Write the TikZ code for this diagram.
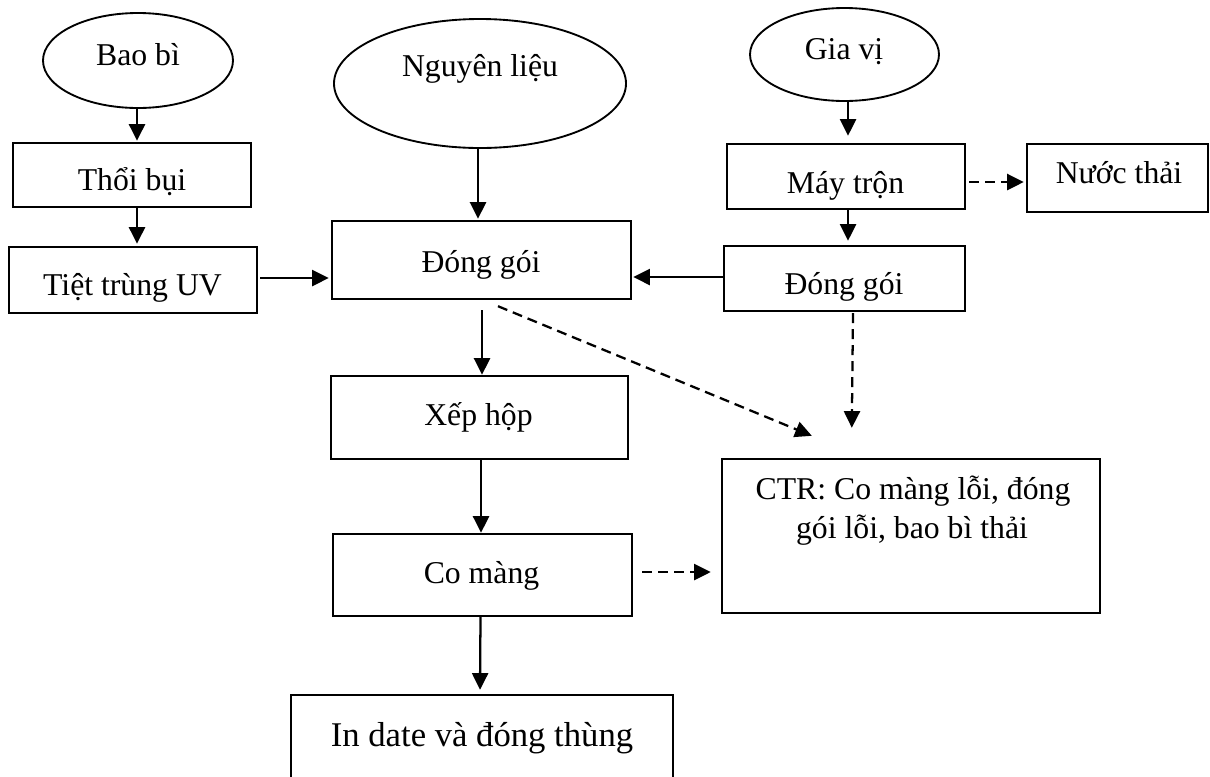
\documentclass[tikz,border=0pt]{standalone}
\usepackage{fontspec}
\setmainfont{Liberation Serif}
\usetikzlibrary{shapes.geometric,arrows.meta,calc}
\newcommand\pxu{*0.75pt}
\begin{document}
\begin{tikzpicture}[x=0.75pt,y=-0.75pt,
  box/.style={draw,line width=1.8pt,rectangle,inner sep=0pt},
  oval/.style={draw,line width=1.4pt,ellipse,inner sep=0pt},
  lbl/.style={anchor=base,inner sep=0pt,font=\fontsize{23.8}{28}\selectfont},
  biglbl/.style={lbl,font=\fontsize{26}{30}\selectfont},
  arr/.style={line width=1.7pt,-{Triangle[length=12.5pt,width=12pt]}},
  darr/.style={arr,dash pattern=on 7.5pt off 4.5pt}]
\useasboundingbox (0,0) rectangle (1210,776);
\clip (0,0) rectangle (1210,776);

% inputs
\node[oval,minimum width=190\pxu,minimum height=95\pxu] (baobi) at (138,60.5) {};
\node[oval,minimum width=292\pxu,minimum height=129\pxu] (nguyen) at (480,83.5) {};
\node[oval,minimum width=189\pxu,minimum height=93\pxu] (giavi) at (844.5,54.5) {};

% process boxes
\node[box,minimum width=238\pxu,minimum height=64\pxu] (thoi) at (132,175) {};
\node[box,minimum width=248\pxu,minimum height=66\pxu] (tiet) at (133,280) {};
\node[box,minimum width=299\pxu,minimum height=78\pxu] (dong) at (481.5,260) {};
\node[box,minimum width=238\pxu,minimum height=65\pxu] (may) at (846,176.5) {};
\node[box,minimum width=181\pxu,minimum height=68\pxu] (nuoc) at (1117.5,178) {};
\node[box,minimum width=241\pxu,minimum height=65\pxu] (dong2) at (844.5,278.5) {};
\node[box,minimum width=297\pxu,minimum height=83\pxu] (xep) at (479.5,417.5) {};
\node[box,minimum width=299\pxu,minimum height=82\pxu] (co) at (482.5,575) {};
\node[box,minimum width=378\pxu,minimum height=154\pxu] (ctr) at (911,536) {};
\node[box,minimum width=382\pxu,minimum height=95\pxu] (indate) at (482,742.5) {};

% labels
\node[lbl] (baobi-t) at (138,65) {Bao bì};
\node[lbl] (nguyen-t) at (480,76) {Nguyên liệu};
\node[lbl] (giavi-t) at (844,59) {Gia vị};
\node[lbl] (thoi-t) at (132,190) {Thổi bụi};
\node[lbl] (tiet-t) at (132.5,295) {Tiệt trùng UV};
\node[lbl] (dong-t) at (481,272) {Đóng gói};
\node[lbl] (may-t) at (845.5,193) {Máy trộn};
\node[lbl] (nuoc-t) at (1119,183) {Nước thải};
\node[lbl] (dong2-t) at (844,294) {Đóng gói};
\node[lbl] (xep-t) at (478.5,425) {Xếp hộp};
\node[lbl] (co-t) at (481.5,583) {Co màng};
\node[lbl] (ctr-t1) at (913,499) {CTR: Co màng lỗi, đóng};
\node[lbl] (ctr-t2) at (912,538) {gói lỗi, bao bì thải};
\node[biglbl] (indate-t) at (482,746) {In date và đóng thùng};

% material flow
\draw[arr] ($(baobi.south)+(-1,0)$) -- ($(thoi.north)+(5,-1)$);
\draw[arr] ($(thoi.south)+(5,0)$) -- ($(tiet.north)+(4,-2)$);
\draw[arr] ($(tiet.east)+(2,-2)$) -- ($(dong.west)+(-2,18)$);
\draw[arr] ($(nguyen.south)+(-2,0)$) -- ($(dong.north)+(-3.5,-1)$);
\draw[arr] ($(giavi.south)+(3.5,0)$) -- ($(may.north)+(2,-7)$);
\draw[arr] ($(may.south)+(2,0)$) -- ($(dong2.north)+(3.5,-4)$);
\draw[arr] ($(dong2.west)+(0,-1.5)$) -- ($(dong.east)+(1,17)$);
\draw[arr] ($(dong.south)+(0.5,10)$) -- ($(xep.north)+(2.5,0)$);
\draw[arr] ($(xep.south)+(1.5,0)$) -- ($(co.north)+(-1.5,0)$);
\draw[arr] ($(co.south)+(-2,0)$) -- ($(indate.north)+(-2,-4)$);

% waste streams
\draw[darr] ($(may.east)+(3,5.5)$) -- ($(nuoc.west)+(-2,4)$);
\draw[darr] ($(dong.south)+(16.5,6)$) -- ($(ctr.north west)+(91,-22)$);
\draw[darr] ($(dong2.south)+(8.5,1)$) -- ($(ctr.north west)+(131,-30)$);
\draw[darr] ($(co.east)+(9,-3)$) -- ($(ctr.west)+(-10,36)$);
\end{tikzpicture}
\end{document}
